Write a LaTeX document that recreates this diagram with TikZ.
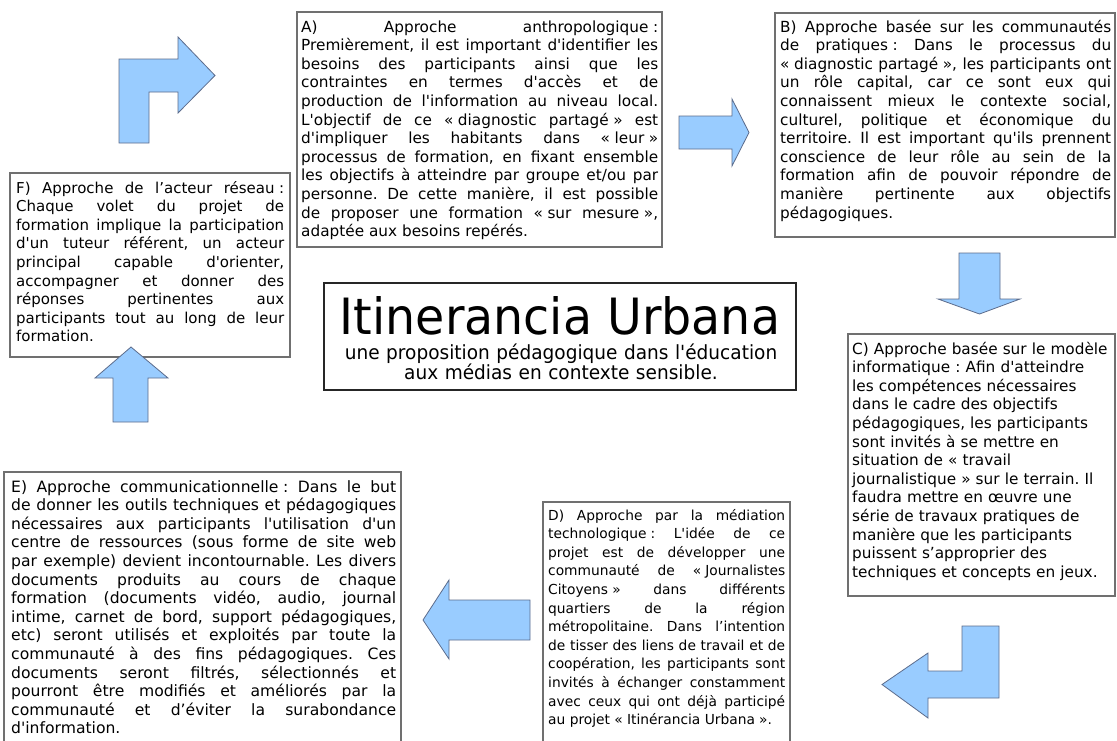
\documentclass[tikz,border=0pt]{standalone}
\usepackage{fontspec}
\newfontfamily\verd{DejaVu Sans}
\newfontfamily\titlefont{DejaVu Sans}[FakeStretch=0.95]
\newcommand{\qsp}{\hspace{0.3em}}
\frenchspacing
\hyphenpenalty=10000
\tolerance=10000
\hbadness=10000
\definecolor{framegray}{RGB}{112,112,112}
\definecolor{arrowfill}{RGB}{153,204,255}
\definecolor{arrowline}{RGB}{92,108,140}

\begin{document}
\begin{tikzpicture}[x=1pt,y=-1pt]
            \tikzstyle{every node}+=[inner sep=0pt]
            \tikzstyle{para}=[anchor=base west, align=justify, font={\verd\fontsize{15.3}{18.6}\selectfont\lineskiplimit=-20pt}]
            \tikzstyle{boxline}=[draw=framegray, line width=1.3pt]
            \tikzstyle{blockarrow}=[fill=arrowfill, draw=arrowline, line width=0.8pt, line join=miter]
            \useasboundingbox (0.0, 0.0) rectangle (1117.0, 740.0);
            \fill [white] (0.0, 0.0) rectangle (1117.0, 740.0);
            \draw [boxline] (297.0, 12.0) rectangle (662.0, 247.0);
            \draw [boxline] (775.0, 13.0) rectangle (1115.0, 237.0);
            \draw [boxline] (848.0, 334.0) rectangle (1115.0, 596.0);
            \draw [boxline] (543.0, 502.0) rectangle (790.0, 748.0);
            \draw [boxline] (4.0, 472.0) rectangle (401.0, 748.0);
            \draw [boxline] (10.0, 173.0) rectangle (290.0, 357.0);
            \draw [boxline, draw=black!85] (324.0, 283.0) rectangle (796.0, 390.0);
            \draw (560.0, 334.0) node [anchor=base, font=\titlefont\fontsize{50}{50}\selectfont] (title) {Itinerancia Urbana};
            \draw (561.0, 359.0) node [anchor=base, text width=470pt, align=center, font=\titlefont\fontsize{19.5}{20.5}\selectfont] (subtitle) {une proposition pédagogique dans l'éducation\\aux médias en contexte sensible.};
            \draw (301.0, 32.0) node [para, text width=357pt] (appA) {A) Approche anthropologique\qsp:\linebreak
Premièrement, il est important d'identifier les\linebreak
besoins des participants ainsi que les\linebreak
contraintes en termes d'accès et de\linebreak
production de l'information au niveau local.\linebreak
L'objectif de ce «\qsp diagnostic partagé\qsp» est\linebreak
d'impliquer les habitants dans «\qsp leur\qsp»\linebreak
processus de formation, en fixant ensemble\linebreak
les objectifs à atteindre par groupe et/ou par\linebreak
personne. De cette manière, il est possible\linebreak
de proposer une formation «\qsp sur mesure\qsp»,\linebreak
adaptée aux besoins repérés.};
            \draw (780.0, 32.0) node [para, text width=331pt] (appB) {B) Approche basée sur les communautés\linebreak
de pratiques\qsp: Dans le processus du\linebreak
«\qsp diagnostic partagé\qsp», les participants ont\linebreak
un rôle capital, car ce sont eux qui\linebreak
connaissent mieux le contexte social,\linebreak
culturel, politique et économique du\linebreak
territoire. Il est important qu'ils prennent\linebreak
conscience de leur rôle au sein de la\linebreak
formation afin de pouvoir répondre de\linebreak
manière pertinente aux objectifs\linebreak
pédagogiques.};
            \draw (852.0, 354.0) node [para, text width=262pt, align=left] (appC) {C) Approche basée sur le modèle\\
informatique : Afin d'atteindre\\
les compétences nécessaires\\
dans le cadre des objectifs\\
pédagogiques, les participants\\
sont invités à se mettre en\\
situation de « travail\\
journalistique » sur le terrain. Il\\
faudra mettre en œuvre une\\
série de travaux pratiques de\\
manière que les participants\\
puissent s’approprier des\\
techniques et concepts en jeux.};
            \draw (548.0, 520.0) node [para, text width=237pt, font={\verd\fontsize{13.8}{18.6}\selectfont\lineskiplimit=-20pt}] (appD) {D) Approche par la médiation\linebreak
technologique\qsp: L'idée de ce\linebreak
projet est de développer une\linebreak
communauté de «\qsp Journalistes\linebreak
Citoyens\qsp» dans différents\linebreak
quartiers de la région\linebreak
métropolitaine. Dans l’intention\linebreak
de tisser des liens de travail et de\linebreak
coopération, les participants sont\linebreak
invités à échanger constamment\linebreak
avec ceux qui ont déjà participé\linebreak
au projet «\qsp Itinérancia Urbana\qsp».};
            \draw (11.0, 492.0) node [para, text width=385pt, font={\verd\fontsize{15.6}{18.6}\selectfont\lineskiplimit=-20pt}] (appE) {E) Approche communicationnelle\qsp: Dans le but\linebreak
de donner les outils techniques et pédagogiques\linebreak
nécessaires aux participants l'utilisation d'un\linebreak
centre de ressources (sous forme de site web\linebreak
par exemple) devient incontournable. Les divers\linebreak
documents produits au cours de chaque\linebreak
formation (documents vidéo, audio, journal\linebreak
intime, carnet de bord, support pédagogiques,\linebreak
etc) seront utilisés et exploités par toute la\linebreak
communauté à des fins pédagogiques. Ces\linebreak
documents seront filtrés, sélectionnés et\linebreak
pourront être modifiés et améliorés par la\linebreak
communauté et d’éviter la surabondance\linebreak
d'information.};
            \draw (16.0, 193.0) node [para, text width=268pt, font={\verd\fontsize{15.0}{18.6}\selectfont\lineskiplimit=-20pt}] (appF) {F) Approche de l’acteur réseau\qsp:\linebreak
Chaque volet du projet de\linebreak
formation implique la participation\linebreak
d'un tuteur référent, un acteur\linebreak
principal capable d'orienter,\linebreak
accompagner et donner des\linebreak
réponses pertinentes aux\linebreak
participants tout au long de leur\linebreak
formation.};
            \filldraw [blockarrow] (119.0, 143.0) -- (119.0, 59.0) -- (178.0, 59.0) -- (178.0, 37.0) -- (215.0, 75.5) -- (178.0, 113.0) -- (178.0, 92.0) -- (149.0, 92.0) -- (149.0, 143.0) -- cycle;
            \filldraw [blockarrow] (679.0, 116.0) -- (732.0, 116.0) -- (732.0, 99.0) -- (749.0, 132.5) -- (732.0, 166.0) -- (732.0, 149.0) -- (679.0, 149.0) -- cycle;
            \filldraw [blockarrow] (959.0, 253.0) -- (1000.0, 253.0) -- (1000.0, 299.0) -- (1020.0, 299.0) -- (979.5, 314.0) -- (938.0, 299.0) -- (959.0, 299.0) -- cycle;
            \filldraw [blockarrow] (962.0, 626.0) -- (999.0, 626.0) -- (999.0, 698.0) -- (928.0, 698.0) -- (928.0, 718.0) -- (882.0, 684.5) -- (928.0, 653.0) -- (928.0, 671.0) -- (962.0, 671.0) -- cycle;
            \filldraw [blockarrow] (530.0, 600.0) -- (449.0, 600.0) -- (449.0, 580.0) -- (423.0, 620.0) -- (449.0, 659.0) -- (449.0, 640.0) -- (530.0, 640.0) -- cycle;
            \filldraw [blockarrow] (113.0, 422.0) -- (113.0, 378.0) -- (95.0, 378.0) -- (131.0, 347.0) -- (168.0, 378.0) -- (148.0, 378.0) -- (148.0, 422.0) -- cycle;
        \end{tikzpicture}
\end{document}
